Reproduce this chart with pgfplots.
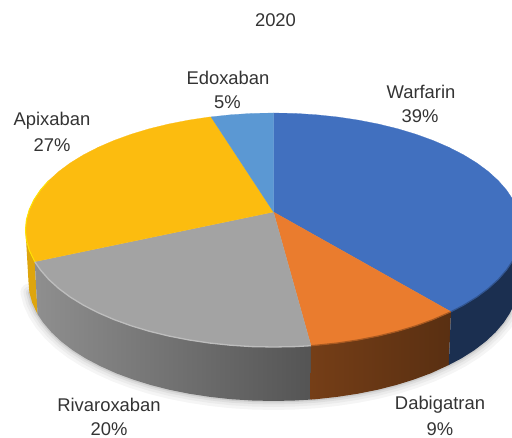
\documentclass[border=0pt]{standalone}
\usepackage{pgfplots}
\pgfplotsset{compat=1.18}
\usepackage{pgfplotstable}
\usepackage{fontspec}
\setmainfont{Liberation Sans}
\definecolor{cBlue}{HTML}{4170BF}
\definecolor{cOrange}{HTML}{EA7C2E}
\definecolor{cGray}{HTML}{A3A3A3}
\definecolor{cYellow}{HTML}{FCBC0F}
\definecolor{cLight}{HTML}{5B98D3}
\definecolor{cText}{HTML}{333333}
\tikzset{lab/.style={font=\fontsize{18.4}{22}\selectfont, text=cText, inner sep=0pt, anchor=center}}
% Shares: Warfarin 39, Dabigatran 9, Rivaroxaban 20, Apixaban 27, Edoxaban 5
\pgfplotstableread{
x y
510.1 312.8
503.7 322.7
495.5 332.3
485.7 341.5
474.2 350.3
461.2 358.5
448.8 365.0
431.0 373.2
414.0 379.5
396.0 385.1
377.0 389.9
357.3 393.8
336.9 396.9
316.0 399.2
294.9 400.5
273.5 401.0
252.1 400.5
231.0 399.2
210.1 396.9
189.7 393.8
170.0 389.9
151.0 385.1
133.0 379.5
116.0 373.2
100.3 366.1
85.8 358.5
72.8 350.3
61.3 341.5
51.5 332.3
43.3 322.7
36.9 312.8
32.2 302.7
29.4 292.4
}\shadowarc
\pgfplotstableread{
x y
34.75 261.7
40.5 270.0
48.7 279.4
58.7 288.5
70.3 297.1
83.5 305.2
98.1 312.7
114.1 319.6
131.2 325.8
149.5 331.3
168.7 336.0
188.7 339.9
209.3 343.0
230.4 345.2
251.9 346.6
273.5 347.0
295.1 346.6
311.0 345.7
}\grayrim
\pgfplotstableread{
x y
311.0 345.7
316.6 345.2
337.7 343.0
358.3 339.9
378.3 336.0
397.5 331.3
415.8 325.8
432.9 319.6
451.0 311.7
}\orangerim
\pgfplotstableread{
x y
451.0 311.7
463.5 305.2
476.7 297.1
488.3 288.5
498.3 279.4
506.5 270.0
513.0 260.3
}\bluerim
\pgfplotstableread{
x y
34.75 261.7
29.3 250.3
26.4 240.2
25.5 230.0
26.4 219.8
29.3 209.7
34.0 199.7
40.5 190.0
48.7 180.6
}\yellowrim
\begin{document}
\begin{tikzpicture}
\path[use as bounding box] (0,0) rectangle (512pt,438pt);
\begin{axis}[
  at={(0,0)}, anchor=south west,
  scale only axis, width=512pt, height=438pt,
  xmin=0, xmax=512, ymin=0, ymax=438, y dir=reverse,
  hide axis,
]
% soft shadow under the pie
\addplot[draw=black!4, line width=18pt, line cap=round] table {\shadowarc};
\addplot[draw=black!8, line width=12pt, line cap=round] table {\shadowarc};
\addplot[draw=black!13, line width=7pt, line cap=round] table {\shadowarc};
\addplot[draw=black!20, line width=3pt, line cap=round] table {\shadowarc};
% side walls
\addplot[fill=cYellow!88!black, draw=none] coordinates {
(34.75,261.7)(29.3,250.3)(26.4,240.2)(25.5,230)(28.5,282)(29.4,292.4)(32.2,302.7)(36.9,312.8)(37.6,314.2)
} -- cycle;
\addplot[left color=black!44, right color=black!67, draw=none] coordinates {
(34.75,261.7)(40.5,270)(48.7,279.4)(58.7,288.5)(70.3,297.1)(83.5,305.2)(98.1,312.7)(114.1,319.6)(131.2,325.8)(149.5,331.3)(168.7,336)(188.7,339.9)(209.3,343)(230.4,345.2)(251.9,346.6)(273.5,347)(295.1,346.6)(311,345.7)
(310.5,399.6)(294.9,400.5)(273.5,401)(252.1,400.5)(231,399.2)(210.1,396.9)(189.7,393.8)(170,389.9)(151,385.1)(133,379.5)(116,373.2)(100.3,366.1)(85.8,358.5)(72.8,350.3)(61.3,341.5)(51.5,332.3)(43.3,322.7)(37.6,314.2)
} -- cycle;
\addplot[left color=cOrange!50!black, right color=cOrange!38!black, draw=none] coordinates {
(311,345.7)(316.6,345.2)(337.7,343)(358.3,339.9)(378.3,336)(397.5,331.3)(415.8,325.8)(432.9,319.6)(451,311.7)
(448.8,365)(431,373.2)(414,379.5)(396,385.1)(377,389.9)(357.3,393.8)(336.9,396.9)(316,399.2)(310.5,399.6)
} -- cycle;
\addplot[fill=cBlue!42!black, draw=none] coordinates {
(521.5,230)(520.6,240.2)(517.7,250.3)(513,260.3)(506.5,270)(498.3,279.4)(488.3,288.5)(476.7,297.1)(463.5,305.2)(451,311.7)
(448.8,365)(461.2,358.5)(474.2,350.3)(485.7,341.5)(495.5,332.3)(503.7,322.7)(510.1,312.8)(514.8,302.7)(517.6,292.4)(518.5,282)
} -- cycle;
% top faces
\addplot[fill=cBlue, draw=cBlue, line width=0.2pt] coordinates {
(273.5,212)(273.5,113)(295.1,113.4)(316.6,114.8)(337.7,117)(358.3,120.1)(378.3,124)(397.5,128.7)(415.8,134.2)(432.9,140.4)(448.9,147.3)(463.5,154.8)(476.7,162.9)(488.3,171.5)(498.3,180.6)(506.5,190)(513,199.7)(517.7,209.7)(520.6,219.8)(521.5,230)(520.6,240.2)(517.7,250.3)(513,260.3)(506.5,270)(498.3,279.4)(488.3,288.5)(476.7,297.1)(463.5,305.2)(451,311.7)
} -- cycle;
\addplot[fill=cOrange, draw=cOrange, line width=0.2pt] coordinates {
(273.5,212)(451,311.7)(432.9,319.6)(415.8,325.8)(397.5,331.3)(378.3,336)(358.3,339.9)(337.7,343)(316.6,345.2)(311,345.7)
} -- cycle;
\addplot[fill=cGray, draw=cGray, line width=0.2pt] coordinates {
(273.5,212)(311,345.7)(295.1,346.6)(273.5,347)(251.9,346.6)(230.4,345.2)(209.3,343)(188.7,339.9)(168.7,336)(149.5,331.3)(131.2,325.8)(114.1,319.6)(98.1,312.7)(83.5,305.2)(70.3,297.1)(58.7,288.5)(48.7,279.4)(40.5,270)(34.75,261.7)
} -- cycle;
\addplot[fill=cYellow, draw=cYellow, line width=0.2pt] coordinates {
(273.5,212)(34.75,261.7)(29.3,250.3)(26.4,240.2)(25.5,230)(26.4,219.8)(29.3,209.7)(34,199.7)(40.5,190)(48.7,180.6)(58.7,171.5)(70.3,162.9)(83.5,154.8)(98.1,147.3)(114.1,140.4)(131.2,134.2)(149.5,128.7)(168.7,124)(188.7,120.1)(209.3,117)(211,116.9)
} -- cycle;
\addplot[fill=cLight, draw=cLight, line width=0.2pt] coordinates {
(273.5,212)(211,116.9)(230.4,114.8)(251.9,113.4)(273.5,113)
} -- cycle;
% rim bevel
\addplot[draw=black!26, line width=1.3pt] table {\grayrim};
\addplot[draw=cOrange!72!black, line width=1.2pt] table {\orangerim};
\addplot[draw=cBlue!75!black, line width=1.2pt] table {\bluerim};
\addplot[draw=yellow!85!orange, line width=1pt] table {\yellowrim};
% labels
\node[lab] at (axis cs:275.5,20) {2020};
\node[lab] at (axis cs:228,78) {Edoxaban};
\node[lab] at (axis cs:227.5,102) {5\%};
\node[lab] at (axis cs:421,92) {Warfarin};
\node[lab] at (axis cs:420,116) {39\%};
\node[lab] at (axis cs:52,121) {Apixaban};
\node[lab] at (axis cs:52,145) {27\%};
\node[lab] at (axis cs:109,405) {Rivaroxaban};
\node[lab] at (axis cs:109,429) {20\%};
\node[lab] at (axis cs:440,405) {Dabigatran};
\node[lab] at (axis cs:440,429) {9\%};
\end{axis}
\end{tikzpicture}
\end{document}
